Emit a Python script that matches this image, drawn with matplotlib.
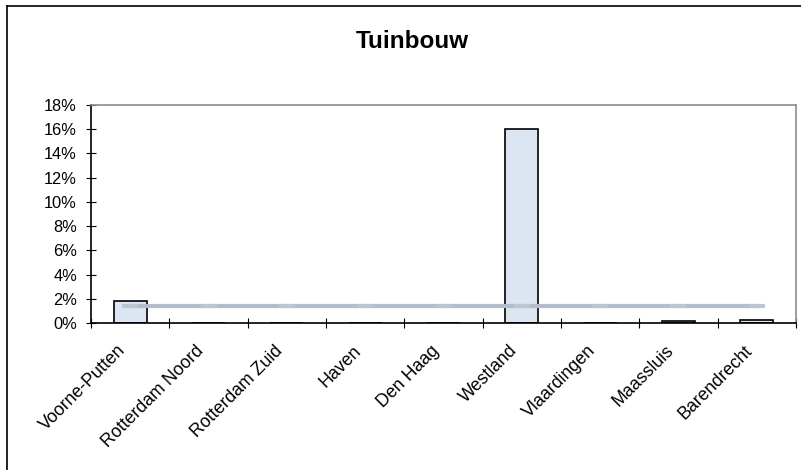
import matplotlib
matplotlib.use("Agg")
import matplotlib.pyplot as plt
from matplotlib.lines import Line2D
from matplotlib.transforms import offset_copy
import numpy as np

plt.rcParams['font.family'] = ['Liberation Sans', 'DejaVu Sans']

regions = ["Voorne-Putten", "Rotterdam Noord", "Rotterdam Zuid", "Haven",
           "Den Haag", "Westland", "Vlaardingen", "Maassluis", "Barendrecht"]
share = [1.78, 0.0, 0.0, 0.0, 0.0, 16.0, 0.0, 0.15, 0.28]
average = [1.38, 1.38, 1.38, 1.38, 1.38, 1.38, 1.38, 1.38, 1.38]
y_ticks = [0, 2, 4, 6, 8, 10, 12, 14, 16, 18]

W, H = 801, 470
fig = plt.figure(figsize=(W / 100, H / 100), dpi=100)
ax = fig.add_axes([91 / W, 1 - 323 / H, (796 - 91) / W, (323 - 105) / H])

x = np.arange(len(regions))
ax.bar(x, share, width=0.42, color="#DCE6F2", edgecolor="black", linewidth=1.2, zorder=2)
ax.plot(x, average, color="#B3BDCB", linewidth=3, marker="_", markersize=12,
        markeredgewidth=3, markeredgecolor="#BCC5D2", zorder=3, solid_capstyle="butt")

ax.set_xlim(-0.5, len(regions) - 0.5)
ax.set_ylim(0, 18)
ax.set_yticks(y_ticks)
ax.set_yticklabels([f"{v}%" for v in y_ticks], fontsize=11.8)

# ticks on category boundaries, names rotated under each category
ax.set_xticks(np.arange(-0.5, len(regions) + 0.5, 1))
ax.set_xticklabels([])
label_tr = offset_copy(ax.get_xaxis_transform(), fig=fig, x=-13, y=-19, units="dots")
for xi, name in zip(x, regions):
    ax.text(xi, 0, name, transform=label_tr, rotation=45, ha="right", va="top",
            rotation_mode="anchor", fontsize=12.8)

ax.tick_params(axis="x", which="major", direction="inout", length=7.2, width=0.8)
ax.tick_params(axis="y", direction="inout", length=7.2, width=0.8, pad=6.5)

for s in ("left", "bottom"):
    ax.spines[s].set_color("black")
    ax.spines[s].set_linewidth(1.2)
for s in ("top", "right"):
    ax.spines[s].set_color("#8C8C8C")
    ax.spines[s].set_linewidth(1.2)

fig.text(412 / W, 1 - 48 / H, "Tuinbouw", ha="center", va="baseline",
         fontsize=17.5, fontweight="bold")

# chart frame
fig.add_artist(Line2D([7 / W, 7 / W], [1 - 6 / H, 0], color="black", lw=1.2,
                      transform=fig.transFigure))
fig.add_artist(Line2D([7 / W, 1], [1 - 6 / H, 1 - 6 / H], color="black", lw=1.2,
                      transform=fig.transFigure))

fig.savefig("out.png", dpi=100)
